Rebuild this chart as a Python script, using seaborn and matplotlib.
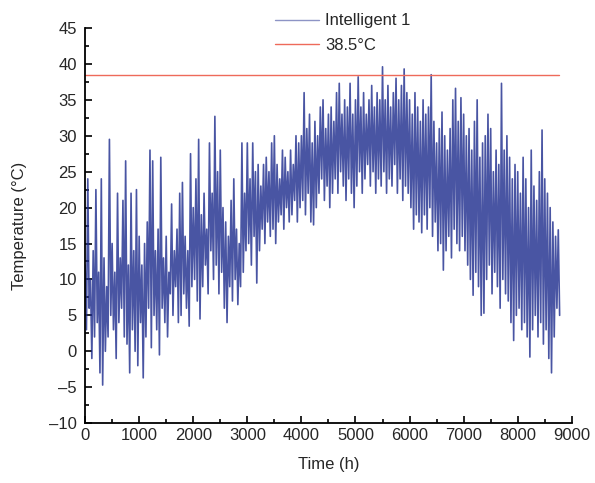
import matplotlib
matplotlib.use("Agg")
import matplotlib.pyplot as plt
from matplotlib.ticker import MultipleLocator
import numpy as np
import pandas as pd
import seaborn as sns

# hourly temperature envelope, one peak / one trough every 50 h
peaks = [
    12, 24, 10, 14, 22.5, 11, 24, 13, 9, 29.5, 15, 11, 22, 13, 21, 26.5, 12, 22, 14, 22.5,
    16, 12, 15, 18, 28, 26.5, 14, 17, 27, 13, 16, 11, 20.5, 14, 17, 22, 23.5, 16, 14, 27.5,
    20, 24, 29.5, 19, 22, 17, 29, 22, 32.7, 25, 28, 20, 18, 16, 21, 24, 17, 15, 29, 22,
    29, 24, 29, 25, 26, 23, 26, 27, 25, 29, 30, 26, 24, 28, 27, 25, 28, 26, 30, 29,
    30, 36, 31, 33, 29, 32, 30, 34, 35, 31, 33, 34, 32, 36, 37.3, 33, 35, 34, 37.3, 33,
    35, 38.2, 34, 36, 33, 35, 37, 34, 36, 35, 39.6, 35, 37, 34, 36, 38, 35, 37, 39.3, 36,
    35, 33, 36, 34, 32, 35, 33, 34, 38.5, 32, 29, 31, 33.3, 30, 28, 31, 35, 36.6, 32, 35.3,
    33, 30, 31, 28, 32, 35, 27, 29, 30, 33, 31, 25, 28, 26, 37.3, 28, 30, 27, 24, 26,
    25, 22, 27, 24, 20, 28, 23, 21, 25, 30.8, 24, 22, 20, 18, 16, 16.9,
]
troughs = [
    3, 6, -1, 2, 4, -3, -4.7, 0, 2, 5, 3, -1, 4, 6, 2, 1, -3, 3, 0, -2,
    4, -3.7, 2, 6, 0.5, 5, 3, -0.5, 6, 4, 2, 8, 5, 9, 4, 5, 8, 6, 3.5, 9,
    10, 7, 4.5, 9, 12, 8, 14, 10, 12, 8, 11, 6, 4, 9, 7, 10, 6.5, 9, 11, 14,
    15, 12, 16, 9.5, 14, 17, 15, 18, 16, 17, 15, 18, 19, 17, 20, 18, 19, 21, 18, 20,
    21, 19, 22, 18, 17.6, 20, 22, 24, 21, 23, 20, 22, 24, 22, 25, 23, 21, 24, 22, 20,
    23, 25, 22, 24, 26, 23, 25, 22, 24, 23, 25, 22, 24, 23, 26, 22, 24, 21, 23, 22,
    20, 17, 19, 18, 16.5, 19, 17, 20, 16, 18, 14, 15, 11.3, 14, 16, 13, 17, 15, 14, 16,
    14, 12, 10, 7.8, 11, 9, 5, 5.3, 10, 12, 8, 11, 9, 6, 10, 8, 7, 4, 1.5, 5,
    6, 3, 4, 2, -0.8, 3, 5, 2, 4, 1, 3, -1, -3, 2, 6, 5,
]
limit = 38.5
step = 50

temps = np.ravel(np.column_stack([peaks, troughs]))
hours = np.arange(len(temps)) * step / 2
df = pd.DataFrame({"Time": hours, "Temp": temps})

sns.set_style("ticks")
plt.rcParams["font.family"] = ["Liberation Sans", "DejaVu Sans"]

fig = plt.figure(figsize=(5.95, 4.83), dpi=100)
ax = fig.add_axes([0.143, 0.124, 0.818, 0.818])

sns.lineplot(data=df, x="Time", y="Temp", ax=ax, color="#1c2a8c", alpha=0.8,
             lw=1.2, sort=False, label="Intelligent 1")
ax.plot([0, 8760], [limit, limit], color="#ee6a5a", lw=1.0, label="38.5°C")

ax.set_xlim(0, 9000)
ax.set_ylim(-10, 45)
ax.xaxis.set_major_locator(MultipleLocator(1000))
ax.xaxis.set_minor_locator(MultipleLocator(500))
ax.yaxis.set_major_locator(MultipleLocator(5))
ax.yaxis.set_minor_locator(MultipleLocator(2.5))
ax.tick_params(which="major", direction="in", length=5, width=1.2, labelsize=12, color="black")
ax.tick_params(which="minor", direction="in", length=3, width=1.2, color="black")
ax.tick_params(axis="y", which="major", pad=6)
ax.set_yticks(range(-10, 50, 5))
ax.set_yticklabels([str(v).replace("-", "\u2013") for v in range(-10, 50, 5)])
for s in ["top", "right"]:
    ax.spines[s].set_visible(False)
for s in ["left", "bottom"]:
    ax.spines[s].set_linewidth(1.3)
    ax.spines[s].set_color("black")

ax.set_xlabel("Time (h)", fontsize=12, labelpad=10)
ax.set_ylabel("Temperature (\u00b0C)", fontsize=12, labelpad=16)

leg = ax.legend(loc="upper left", bbox_to_anchor=(0.36, 1.075), frameon=False, fontsize=12,
                handlelength=2.6, handletextpad=0.4, labelspacing=0.55)
leg.get_lines()[0].set_linewidth(1.0)
leg.get_lines()[0].set_alpha(0.5)

fig.savefig("out.png", dpi=100)
